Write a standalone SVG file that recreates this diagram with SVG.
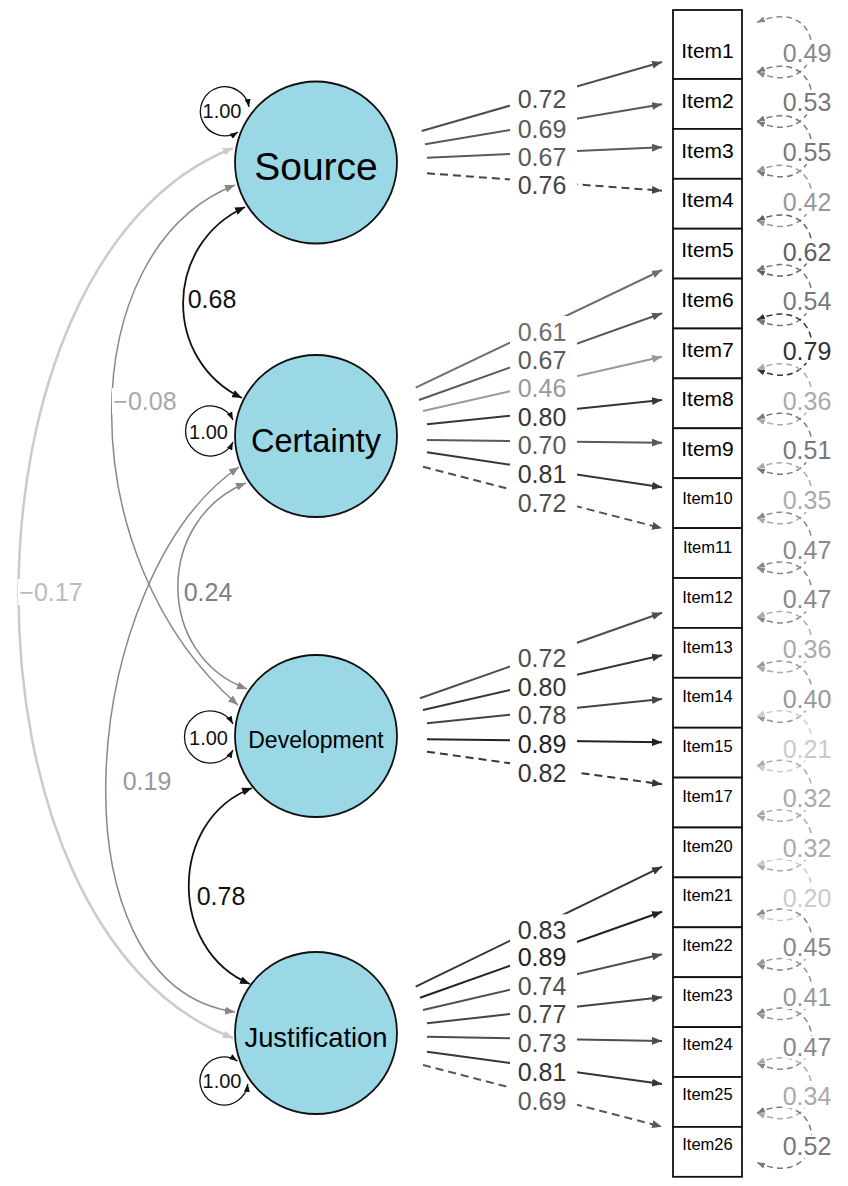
<svg xmlns="http://www.w3.org/2000/svg" width="848" height="1186" viewBox="0 0 848 1186">
<defs>
<style>
text{font-family:"Liberation Sans",Arial,sans-serif}
.el{font-size:25px;text-anchor:middle}
.vl{font-size:20px;text-anchor:middle;fill:#111}
.bg{fill:#fff}
.ld{fill:none;stroke-width:2}
.dash{stroke-dasharray:8 5}
.rs{fill:none;stroke-width:1.5;stroke-dasharray:6 4}
.lat{fill:#9ad8e6;stroke:#111;stroke-width:1.8}
.box{fill:#fff;stroke:#111;stroke-width:1.8}
.it{font-size:21px;text-anchor:middle;fill:#000}
.its{font-size:16.5px;text-anchor:middle;fill:#000}
.ln{text-anchor:middle;fill:#000}
.L1{stroke:#222;marker-end:url(#aL1)}.tL1{fill:#222}
.L2{stroke:#353535;marker-end:url(#aL2)}.tL2{fill:#353535}
.L3{stroke:#444;marker-end:url(#aL3)}.tL3{fill:#444}
.L4{stroke:#4e4e4e;marker-end:url(#aL4)}.tL4{fill:#4e4e4e}
.L5{stroke:#595959;marker-end:url(#aL5)}.tL5{fill:#595959}
.L6{stroke:#6e6e6e;marker-end:url(#aL6)}.tL6{fill:#6e6e6e}
.L7{stroke:#999;marker-end:url(#aL7)}.tL7{fill:#999}
.R1{stroke:#333;marker-start:url(#rR1);marker-end:url(#rR1)}.tR1{fill:#333}
.R2{stroke:#606060;marker-start:url(#rR2);marker-end:url(#rR2)}.tR2{fill:#606060}
.R3{stroke:#787878;marker-start:url(#rR3);marker-end:url(#rR3)}.tR3{fill:#787878}
.R4{stroke:#888;marker-start:url(#rR4);marker-end:url(#rR4)}.tR4{fill:#888}
.R5{stroke:#979797;marker-start:url(#rR5);marker-end:url(#rR5)}.tR5{fill:#979797}
.R6{stroke:#a9a9a9;marker-start:url(#rR6);marker-end:url(#rR6)}.tR6{fill:#a9a9a9}
.R7{stroke:#cacaca;marker-start:url(#rR7);marker-end:url(#rR7)}.tR7{fill:#cacaca}
.cvK{fill:none;stroke:#111;stroke-width:1.8;marker-start:url(#cK);marker-end:url(#cK)}
.cvG{fill:none;stroke:#888;stroke-width:1.5;marker-start:url(#cG);marker-end:url(#cG)}
.cvL{fill:none;stroke:#cbcbcb;stroke-width:2.5;marker-start:url(#cL);marker-end:url(#cL)}
.var{fill:none;stroke:#111;stroke-width:1.3;marker-start:url(#vK);marker-end:url(#vK)}
</style>
<marker id="aL1" viewBox="0 0 10 8" refX="10" refY="4" markerWidth="10" markerHeight="8" markerUnits="userSpaceOnUse" orient="auto-start-reverse"><path d="M0,0L10,4L0,8z" fill="#222"/></marker>
<marker id="aL2" viewBox="0 0 10 8" refX="10" refY="4" markerWidth="10" markerHeight="8" markerUnits="userSpaceOnUse" orient="auto-start-reverse"><path d="M0,0L10,4L0,8z" fill="#353535"/></marker>
<marker id="aL3" viewBox="0 0 10 8" refX="10" refY="4" markerWidth="10" markerHeight="8" markerUnits="userSpaceOnUse" orient="auto-start-reverse"><path d="M0,0L10,4L0,8z" fill="#444"/></marker>
<marker id="aL4" viewBox="0 0 10 8" refX="10" refY="4" markerWidth="10" markerHeight="8" markerUnits="userSpaceOnUse" orient="auto-start-reverse"><path d="M0,0L10,4L0,8z" fill="#4e4e4e"/></marker>
<marker id="aL5" viewBox="0 0 10 8" refX="10" refY="4" markerWidth="10" markerHeight="8" markerUnits="userSpaceOnUse" orient="auto-start-reverse"><path d="M0,0L10,4L0,8z" fill="#595959"/></marker>
<marker id="aL6" viewBox="0 0 10 8" refX="10" refY="4" markerWidth="10" markerHeight="8" markerUnits="userSpaceOnUse" orient="auto-start-reverse"><path d="M0,0L10,4L0,8z" fill="#6e6e6e"/></marker>
<marker id="aL7" viewBox="0 0 10 8" refX="10" refY="4" markerWidth="10" markerHeight="8" markerUnits="userSpaceOnUse" orient="auto-start-reverse"><path d="M0,0L10,4L0,8z" fill="#999"/></marker>
<marker id="rR1" viewBox="0 0 8 6" refX="8" refY="3" markerWidth="8" markerHeight="6" markerUnits="userSpaceOnUse" orient="auto-start-reverse"><path d="M0,0L8,3L0,6z" fill="#333"/></marker>
<marker id="rR2" viewBox="0 0 8 6" refX="8" refY="3" markerWidth="8" markerHeight="6" markerUnits="userSpaceOnUse" orient="auto-start-reverse"><path d="M0,0L8,3L0,6z" fill="#606060"/></marker>
<marker id="rR3" viewBox="0 0 8 6" refX="8" refY="3" markerWidth="8" markerHeight="6" markerUnits="userSpaceOnUse" orient="auto-start-reverse"><path d="M0,0L8,3L0,6z" fill="#787878"/></marker>
<marker id="rR4" viewBox="0 0 8 6" refX="8" refY="3" markerWidth="8" markerHeight="6" markerUnits="userSpaceOnUse" orient="auto-start-reverse"><path d="M0,0L8,3L0,6z" fill="#888"/></marker>
<marker id="rR5" viewBox="0 0 8 6" refX="8" refY="3" markerWidth="8" markerHeight="6" markerUnits="userSpaceOnUse" orient="auto-start-reverse"><path d="M0,0L8,3L0,6z" fill="#979797"/></marker>
<marker id="rR6" viewBox="0 0 8 6" refX="8" refY="3" markerWidth="8" markerHeight="6" markerUnits="userSpaceOnUse" orient="auto-start-reverse"><path d="M0,0L8,3L0,6z" fill="#a9a9a9"/></marker>
<marker id="rR7" viewBox="0 0 8 6" refX="8" refY="3" markerWidth="8" markerHeight="6" markerUnits="userSpaceOnUse" orient="auto-start-reverse"><path d="M0,0L8,3L0,6z" fill="#cacaca"/></marker>
<marker id="cK" viewBox="0 0 10 8" refX="10" refY="4" markerWidth="10" markerHeight="8" markerUnits="userSpaceOnUse" orient="auto-start-reverse"><path d="M0,0L10,4L0,8z" fill="#111"/></marker>
<marker id="cG" viewBox="0 0 10 8" refX="10" refY="4" markerWidth="10" markerHeight="8" markerUnits="userSpaceOnUse" orient="auto-start-reverse"><path d="M0,0L10,4L0,8z" fill="#888"/></marker>
<marker id="cL" viewBox="0 0 10 8" refX="10" refY="4" markerWidth="10" markerHeight="8" markerUnits="userSpaceOnUse" orient="auto-start-reverse"><path d="M0,0L10,4L0,8z" fill="#cbcbcb"/></marker>
<marker id="vK" viewBox="0 0 8 6" refX="8" refY="3" markerWidth="8" markerHeight="6" markerUnits="userSpaceOnUse" orient="auto-start-reverse"><path d="M0,0L8,3L0,6z" fill="#111"/></marker>
</defs>
<rect width="848" height="1186" fill="#fff"/>

<g id="connectors">
<!-- covariances -->
<path class="cvL" d="M233,148 C-53,260 -53,930 233,1038"/>
<path class="cvG" d="M235,185 C70,250 70,560 238,705"/>
<path class="cvG" d="M239,467 C80,575 45,985 235,1012"/>
<path class="cvG" d="M246,483 C155,520 155,655 247,689"/>
<path class="cvK" d="M245,207 C163,245 163,360 242,398"/>
<path class="cvK" d="M252,788 C168,820 168,950 250,984"/>
<!-- latent variances -->
<path class="var" d="M249,107 A24.5,24.5 0 1 0 238,132"/>
<path class="var" d="M233,420 A25,25 0 1 0 233,442"/>
<path class="var" d="M233,724 A26,26 0 1 0 233,750"/>
<path class="var" d="M237.4,1061.1 A24,24 0 1 0 247.8,1083.9"/>
<!-- loadings -->
<line class="ld L4" x1="421.7" y1="131" x2="662" y2="62"/>
<line class="ld L5" x1="425" y1="144.3" x2="662" y2="104.3"/>
<line class="ld L5" x1="427" y1="157.7" x2="662" y2="147.3"/>
<line class="ld L3 dash" x1="427" y1="173.3" x2="662" y2="190.7"/>
<line class="ld L6" x1="415.7" y1="387.7" x2="662" y2="270"/>
<line class="ld L5" x1="419" y1="400" x2="662" y2="313.3"/>
<line class="ld L7" x1="423" y1="411" x2="662" y2="356.7"/>
<line class="ld L2" x1="427" y1="424.3" x2="662" y2="400"/>
<line class="ld L5" x1="427" y1="440" x2="662" y2="442.7"/>
<line class="ld L2" x1="427" y1="452.3" x2="662" y2="487.3"/>
<line class="ld L4 dash" x1="423" y1="466.7" x2="662" y2="528.3"/>
<line class="ld L4" x1="420" y1="698.3" x2="662" y2="612.7"/>
<line class="ld L2" x1="423" y1="710" x2="662" y2="655.3"/>
<line class="ld L3" x1="427" y1="723.3" x2="662" y2="699"/>
<line class="ld L1" x1="427" y1="739.3" x2="662" y2="742.3"/>
<line class="ld L2 dash" x1="427" y1="751.7" x2="662" y2="784.3"/>
<line class="ld L2" x1="415.7" y1="986.7" x2="662" y2="866.7"/>
<line class="ld L1" x1="420" y1="997.7" x2="662" y2="911.7"/>
<line class="ld L4" x1="423" y1="1010" x2="662" y2="954.3"/>
<line class="ld L3" x1="427" y1="1023.3" x2="662" y2="997.3"/>
<line class="ld L4" x1="427" y1="1036.7" x2="662" y2="1041"/>
<line class="ld L2" x1="427" y1="1051.7" x2="662" y2="1084"/>
<line class="ld L5 dash" x1="423" y1="1065" x2="662" y2="1126.7"/>
<!-- residuals -->
<path class="rs R4" d="M757,22.4 C830,-9.6 830,104 757,72"/>
<path class="rs R3" d="M757,72 C830,40 830,153.5 757,121.5"/>
<path class="rs R3" d="M757,121.5 C830,89.5 830,203.1 757,171.1"/>
<path class="rs R5" d="M757,171.1 C830,139.1 830,252.7 757,220.7"/>
<path class="rs R2" d="M757,220.7 C830,188.7 830,302.3 757,270.3"/>
<path class="rs R3" d="M757,270.3 C830,238.3 830,351.8 757,319.8"/>
<path class="rs R1" d="M757,319.8 C830,287.8 830,401.4 757,369.4"/>
<path class="rs R6" d="M757,369.4 C830,337.4 830,451 757,419"/>
<path class="rs R3" d="M757,419 C830,387 830,500.5 757,468.5"/>
<path class="rs R6" d="M757,468.5 C830,436.5 830,550.1 757,518.1"/>
<path class="rs R4" d="M757,518.1 C830,486.1 830,599.7 757,567.7"/>
<path class="rs R4" d="M757,567.7 C830,535.7 830,649.2 757,617.2"/>
<path class="rs R6" d="M757,617.2 C830,585.2 830,698.8 757,666.8"/>
<path class="rs R5" d="M757,666.8 C830,634.8 830,748.4 757,716.4"/>
<path class="rs R7" d="M757,716.4 C830,684.4 830,797.9 757,765.9"/>
<path class="rs R6" d="M757,765.9 C830,733.9 830,847.5 757,815.5"/>
<path class="rs R6" d="M757,815.5 C830,783.5 830,897.1 757,865.1"/>
<path class="rs R7" d="M757,865.1 C830,833.1 830,946.7 757,914.7"/>
<path class="rs R4" d="M757,914.7 C830,882.7 830,996.2 757,964.2"/>
<path class="rs R5" d="M757,964.2 C830,932.2 830,1045.8 757,1013.8"/>
<path class="rs R4" d="M757,1013.8 C830,981.8 830,1095.4 757,1063.4"/>
<path class="rs R6" d="M757,1063.4 C830,1031.4 830,1144.9 757,1112.9"/>
<path class="rs R3" d="M757,1112.9 C830,1080.9 830,1194.5 757,1162.5"/>
</g>

<g id="edge-labels">
<rect class="bg" x="187" y="286" width="52" height="26"/><text class="el" x="212" y="308.3" fill="#111">0.68</text>
<rect class="bg" x="183" y="579" width="51" height="26"/><text class="el" x="208" y="601" fill="#808080">0.24</text>
<rect class="bg" x="196" y="883" width="51" height="26"/><text class="el" x="221" y="905" fill="#111">0.78</text>
<rect class="bg" x="112" y="388" width="66" height="26"/><text class="el" x="145" y="410" fill="#a8a8a8">−0.08</text>
<rect class="bg" x="122" y="768" width="50" height="26"/><text class="el" x="147" y="790" fill="#999">0.19</text>
<rect class="bg" x="18" y="579" width="67" height="26"/><text class="el" x="51" y="601" fill="#bbb">−0.17</text>
<text class="vl" x="222" y="118">1.00</text>
<text class="vl" x="208.5" y="439">1.00</text>
<text class="vl" x="208.5" y="745">1.00</text>
<text class="vl" x="222" y="1088">1.00</text>

<rect class="bg" x="510" y="83.3" width="67" height="29"/><text class="el tL4" x="542" y="108.3">0.72</text>
<rect class="bg" x="510" y="112.7" width="67" height="29"/><text class="el tL5" x="542" y="137.7">0.69</text>
<rect class="bg" x="510" y="141" width="67" height="29"/><text class="el tL5" x="542" y="166">0.67</text>
<rect class="bg" x="510" y="169.3" width="67" height="29"/><text class="el tL3" x="542" y="194.3">0.76</text>

<rect class="bg" x="510" y="316" width="67" height="29"/><text class="el tL6" x="542" y="341">0.61</text>
<rect class="bg" x="510" y="344.3" width="67" height="29"/><text class="el tL5" x="542" y="369.3">0.67</text>
<rect class="bg" x="510" y="371.7" width="67" height="29"/><text class="el tL7" x="542" y="396.7">0.46</text>
<rect class="bg" x="510" y="400.7" width="67" height="29"/><text class="el tL2" x="542" y="425.7">0.80</text>
<rect class="bg" x="510" y="429" width="67" height="29"/><text class="el tL5" x="542" y="454">0.70</text>
<rect class="bg" x="510" y="457.7" width="67" height="29"/><text class="el tL2" x="542" y="482.7">0.81</text>
<rect class="bg" x="510" y="486.7" width="67" height="29"/><text class="el tL4" x="542" y="511.7">0.72</text>

<rect class="bg" x="510" y="641.7" width="67" height="29"/><text class="el tL4" x="542" y="666.7">0.72</text>
<rect class="bg" x="510" y="670.7" width="67" height="29"/><text class="el tL2" x="542" y="695.7">0.80</text>
<rect class="bg" x="510" y="699" width="67" height="29"/><text class="el tL3" x="542" y="724">0.78</text>
<rect class="bg" x="510" y="727.7" width="67" height="29"/><text class="el tL1" x="542" y="752.7">0.89</text>
<rect class="bg" x="510" y="756.7" width="67" height="29"/><text class="el tL2" x="542" y="781.7">0.82</text>

<rect class="bg" x="510" y="914.3" width="67" height="29"/><text class="el tL2" x="542" y="939.3">0.83</text>
<rect class="bg" x="510" y="941" width="67" height="29"/><text class="el tL1" x="542" y="966">0.89</text>
<rect class="bg" x="510" y="970" width="67" height="29"/><text class="el tL4" x="542" y="995">0.74</text>
<rect class="bg" x="510" y="998.3" width="67" height="29"/><text class="el tL3" x="542" y="1023.3">0.77</text>
<rect class="bg" x="510" y="1027.3" width="67" height="29"/><text class="el tL4" x="542" y="1052.3">0.73</text>
<rect class="bg" x="510" y="1056" width="67" height="29"/><text class="el tL2" x="542" y="1081">0.81</text>
<rect class="bg" x="510" y="1085" width="67" height="29"/><text class="el tL5" x="542" y="1110">0.69</text>

<rect class="bg" x="783" y="41.7" width="49" height="23"/><text class="el tR4" x="807" y="61.7">0.49</text>
<rect class="bg" x="783" y="91.4" width="49" height="23"/><text class="el tR3" x="807" y="111.4">0.53</text>
<rect class="bg" x="783" y="141.1" width="49" height="23"/><text class="el tR3" x="807" y="161.1">0.55</text>
<rect class="bg" x="783" y="190.8" width="49" height="23"/><text class="el tR5" x="807" y="210.8">0.42</text>
<rect class="bg" x="783" y="240.5" width="49" height="23"/><text class="el tR2" x="807" y="260.5">0.62</text>
<rect class="bg" x="783" y="290.2" width="49" height="23"/><text class="el tR3" x="807" y="310.2">0.54</text>
<rect class="bg" x="783" y="339.9" width="49" height="23"/><text class="el tR1" x="807" y="359.9">0.79</text>
<rect class="bg" x="783" y="389.6" width="49" height="23"/><text class="el tR6" x="807" y="409.6">0.36</text>
<rect class="bg" x="783" y="439.3" width="49" height="23"/><text class="el tR3" x="807" y="459.3">0.51</text>
<rect class="bg" x="783" y="489" width="49" height="23"/><text class="el tR6" x="807" y="509">0.35</text>
<rect class="bg" x="783" y="538.7" width="49" height="23"/><text class="el tR4" x="807" y="558.7">0.47</text>
<rect class="bg" x="783" y="588.4" width="49" height="23"/><text class="el tR4" x="807" y="608.4">0.47</text>
<rect class="bg" x="783" y="638.1" width="49" height="23"/><text class="el tR6" x="807" y="658.1">0.36</text>
<rect class="bg" x="783" y="687.8" width="49" height="23"/><text class="el tR5" x="807" y="707.8">0.40</text>
<rect class="bg" x="783" y="737.5" width="49" height="23"/><text class="el tR7" x="807" y="757.5">0.21</text>
<rect class="bg" x="783" y="787.2" width="49" height="23"/><text class="el tR6" x="807" y="807.2">0.32</text>
<rect class="bg" x="783" y="836.9" width="49" height="23"/><text class="el tR6" x="807" y="856.9">0.32</text>
<rect class="bg" x="783" y="886.6" width="49" height="23"/><text class="el tR7" x="807" y="906.6">0.20</text>
<rect class="bg" x="783" y="936.3" width="49" height="23"/><text class="el tR4" x="807" y="956.3">0.45</text>
<rect class="bg" x="783" y="986" width="49" height="23"/><text class="el tR5" x="807" y="1006">0.41</text>
<rect class="bg" x="783" y="1035.7" width="49" height="23"/><text class="el tR4" x="807" y="1055.7">0.47</text>
<rect class="bg" x="783" y="1085.4" width="49" height="23"/><text class="el tR6" x="807" y="1105.4">0.34</text>
<rect class="bg" x="783" y="1135.1" width="49" height="23"/><text class="el tR3" x="807" y="1155.1">0.52</text>
</g>

<g id="Source"><circle class="lat" cx="316" cy="162.5" r="81"/><text class="ln" x="316" y="180" font-size="39">Source</text></g>
<g id="Certainty"><circle class="lat" cx="316" cy="436" r="81"/><text class="ln" x="316" y="452" font-size="32.5">Certainty</text></g>
<g id="Development"><circle class="lat" cx="316" cy="736" r="81"/><text class="ln" x="316" y="748" font-size="23">Development</text></g>
<g id="Justification"><circle class="lat" cx="316" cy="1033" r="81"/><text class="ln" x="316" y="1047" font-size="27.4">Justification</text></g>

<g id="Item1"><rect class="box" x="673" y="10" width="69" height="69"/><text class="it" x="707.5" y="58.3">Item1</text></g>
<g id="Item2"><rect class="box" x="673" y="79" width="69" height="49.9"/><text class="it" x="707.5" y="108">Item2</text></g>
<g id="Item3"><rect class="box" x="673" y="128.9" width="69" height="49.9"/><text class="it" x="707.5" y="157.7">Item3</text></g>
<g id="Item4"><rect class="box" x="673" y="178.8" width="69" height="49.9"/><text class="it" x="707.5" y="207.4">Item4</text></g>
<g id="Item5"><rect class="box" x="673" y="228.7" width="69" height="49.9"/><text class="it" x="707.5" y="257.1">Item5</text></g>
<g id="Item6"><rect class="box" x="673" y="278.6" width="69" height="49.9"/><text class="it" x="707.5" y="306.8">Item6</text></g>
<g id="Item7"><rect class="box" x="673" y="328.5" width="69" height="49.9"/><text class="it" x="707.5" y="356.5">Item7</text></g>
<g id="Item8"><rect class="box" x="673" y="378.4" width="69" height="49.9"/><text class="it" x="707.5" y="406.2">Item8</text></g>
<g id="Item9"><rect class="box" x="673" y="428.3" width="69" height="49.9"/><text class="it" x="707.5" y="455.9">Item9</text></g>
<g id="Item10"><rect class="box" x="673" y="478.2" width="69" height="49.9"/><text class="its" x="707.5" y="503.6">Item10</text></g>
<g id="Item11"><rect class="box" x="673" y="528.1" width="69" height="49.9"/><text class="its" x="707.5" y="553.3">Item11</text></g>
<g id="Item12"><rect class="box" x="673" y="578" width="69" height="49.9"/><text class="its" x="707.5" y="603">Item12</text></g>
<g id="Item13"><rect class="box" x="673" y="627.9" width="69" height="49.9"/><text class="its" x="707.5" y="652.7">Item13</text></g>
<g id="Item14"><rect class="box" x="673" y="677.8" width="69" height="49.9"/><text class="its" x="707.5" y="702.4">Item14</text></g>
<g id="Item15"><rect class="box" x="673" y="727.7" width="69" height="49.9"/><text class="its" x="707.5" y="752.1">Item15</text></g>
<g id="Item17"><rect class="box" x="673" y="777.6" width="69" height="49.9"/><text class="its" x="707.5" y="801.8">Item17</text></g>
<g id="Item20"><rect class="box" x="673" y="827.5" width="69" height="49.9"/><text class="its" x="707.5" y="851.5">Item20</text></g>
<g id="Item21"><rect class="box" x="673" y="877.4" width="69" height="49.9"/><text class="its" x="707.5" y="901.2">Item21</text></g>
<g id="Item22"><rect class="box" x="673" y="927.3" width="69" height="49.9"/><text class="its" x="707.5" y="950.9">Item22</text></g>
<g id="Item23"><rect class="box" x="673" y="977.2" width="69" height="49.9"/><text class="its" x="707.5" y="1000.6">Item23</text></g>
<g id="Item24"><rect class="box" x="673" y="1027.1" width="69" height="49.9"/><text class="its" x="707.5" y="1050.3">Item24</text></g>
<g id="Item25"><rect class="box" x="673" y="1077" width="69" height="49.9"/><text class="its" x="707.5" y="1100">Item25</text></g>
<g id="Item26"><rect class="box" x="673" y="1126.9" width="69" height="49.9"/><text class="its" x="707.5" y="1149.7">Item26</text></g>
</svg>
